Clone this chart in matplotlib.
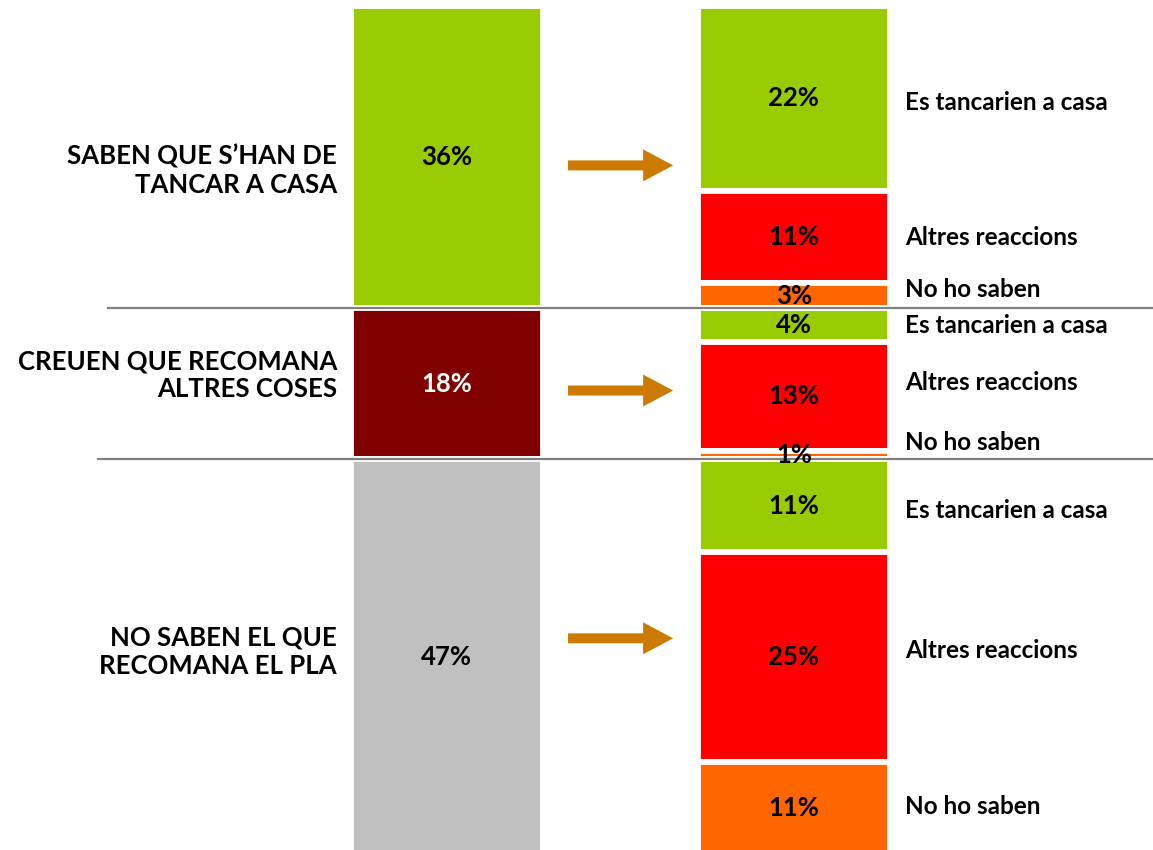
import matplotlib

matplotlib.use("Agg")
import matplotlib.pyplot as plt
from matplotlib.patches import FancyArrowPatch

plt.rcParams["font.family"] = ["Lato", "DejaVu Sans"]

# left column: what people believe the plan recommends
groups = ["SABEN QUE S\u2019HAN DE\nTANCAR A CASA", "CREUEN QUE RECOMANA\nALTRES COSES", "NO SABEN EL QUE\nRECOMANA EL PLA"]
group_values = [36, 18, 47]
group_colors = ["#99CC00", "#800000", "#C0C0C0"]
group_text_colors = ["black", "white", "black"]

# right column: what they would do, per group
reactions = ["Es tancarien a casa", "Altres reaccions", "No ho saben"]
reaction_values = [
    [22, 11, 3],
    [4, 13, 1],
    [11, 25, 11],
]
reaction_colors = ["#99CC00", "#FF0000", "#FF6600"]

ARROW_COLOR = "#CC7A00"
BAR_WIDTH = 0.555
GAP_LW = 4.2


def main() -> None:
    fig = plt.figure(figsize=(11.53, 8.5), dpi=100)
    ax = fig.add_axes([0, 0, 1, 1])
    ax.set_xlim(-1.288, 2.035)
    ax.set_ylim(100.5, -0.69)
    ax.axis("off")

    # separator lines between groups, drawn through the white gaps
    seps = [group_values[0], group_values[0] + group_values[1]]
    for y, xmin in zip(seps, [0.094, 0.085]):
        ax.axhline(y, xmin=xmin, xmax=1, color="#808080", lw=1.6, zorder=3)

    bottom = 0
    label_shift = [[0.5, 0.1, -0.7], [0.1, -1.7, -1.5], [0.6, -0.8, -0.2]]
    arrow_y = [19.0, 45.8, 75.3]
    title_y = [19.6, 44.0, 76.9]
    for i, (name, value) in enumerate(zip(groups, group_values)):
        ax.bar(0, value, bottom=bottom, width=BAR_WIDTH, color=group_colors[i],
               edgecolor="white", linewidth=GAP_LW, zorder=2)
        ax.text(0, bottom + value / 2, f"{value}%", ha="center", va="center",
                fontsize=18.5, fontweight="bold", color=group_text_colors[i], zorder=4)
        ax.text(-0.317, title_y[i], name, ha="right", va="center", fontsize=18.5,
                fontweight="bold", linespacing=1.2, zorder=4)

        arrow = FancyArrowPatch((0.349, arrow_y[i]), (0.652, arrow_y[i]),
                                arrowstyle="simple,head_length=21.6,head_width=23,tail_width=7.2",
                                mutation_scale=1, shrinkA=0, shrinkB=0,
                                color=ARROW_COLOR, lw=0, zorder=3)
        ax.add_patch(arrow)

        sub_bottom = bottom
        for j, sub in enumerate(reaction_values[i]):
            ax.bar(1, sub, bottom=sub_bottom, width=BAR_WIDTH, color=reaction_colors[j],
                   edgecolor="white", linewidth=GAP_LW, zorder=2)
            center = sub_bottom + sub / 2
            ax.text(1, center, f"{sub}%", ha="center", va="center",
                    fontsize=18.5, fontweight="bold", zorder=4)
            ax.text(1.32, center + label_shift[i][j], reactions[j], ha="left", va="center",
                    fontsize=17.5, fontweight="bold", zorder=4)
            sub_bottom += sub
        bottom += value

    fig.savefig("out.png", dpi=100)


if __name__ == "__main__":
    main()
